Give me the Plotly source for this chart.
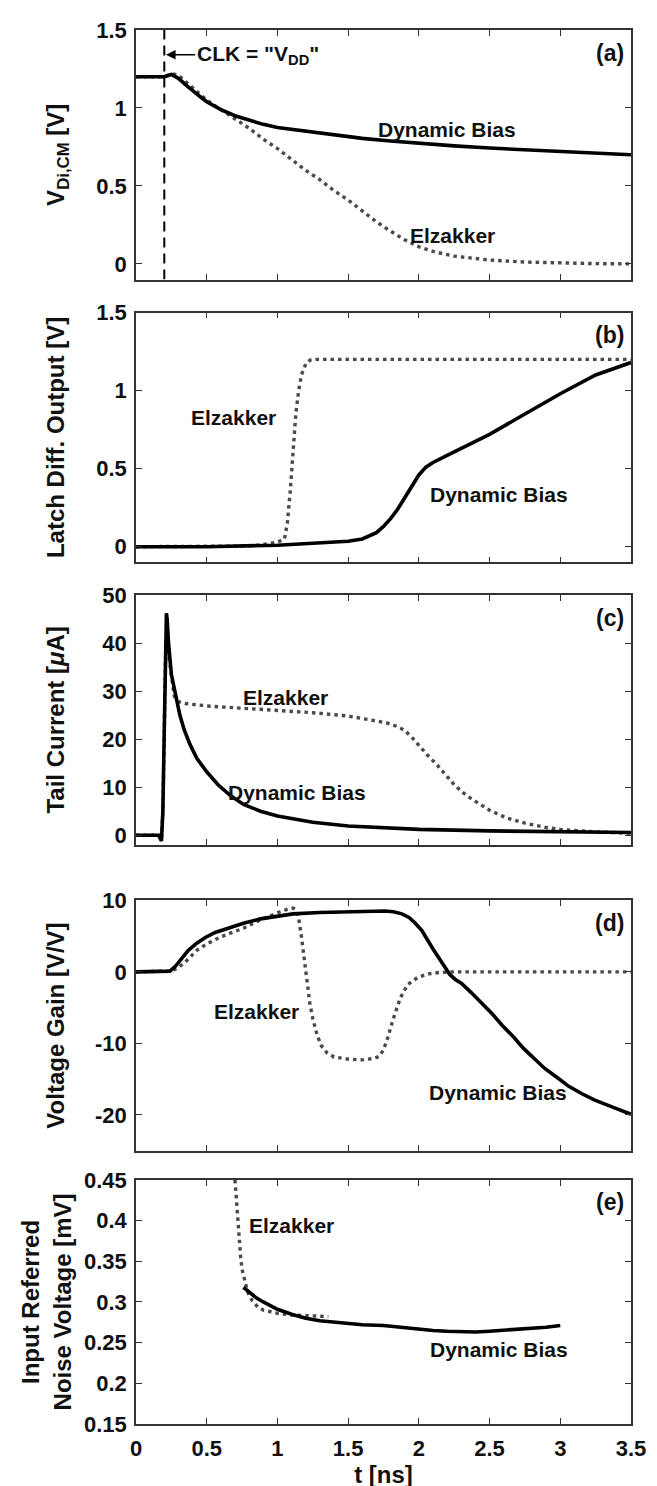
import plotly.graph_objects as go

# ---------------- data ----------------
clk_t = 0.2
clk_label_t = 0.86   # centre of the CLK label text (ns)
clk_label_v = 1.341  # level of the CLK arrow (V)

# (a) V_Di,CM [V]
a_db_t = [0, 0.1, 0.2, 0.25, 0.3, 0.35, 0.4, 0.45, 0.5, 0.6, 0.7, 0.8, 0.9, 1.0, 1.2, 1.4, 1.6, 1.8, 2.0, 2.25, 2.5, 2.75, 3.0, 3.25, 3.5]
a_db_v = [1.2, 1.2, 1.2, 1.215, 1.19, 1.15, 1.11, 1.075, 1.04, 0.99, 0.95, 0.92, 0.895, 0.875, 0.85, 0.825, 0.805, 0.788, 0.772, 0.757, 0.743, 0.732, 0.718, 0.708, 0.70]
a_el_t = [0, 0.1, 0.2, 0.25, 0.3, 0.35, 0.4, 0.5, 0.6, 0.7, 0.8, 0.9, 1.0, 1.1, 1.2, 1.3, 1.4, 1.5, 1.6, 1.7, 1.8, 1.9, 2.0, 2.1, 2.25, 2.5, 2.75, 3.0, 3.25, 3.5]
a_el_v = [1.2, 1.2, 1.2, 1.22, 1.21, 1.17, 1.13, 1.05, 0.99, 0.93, 0.87, 0.80, 0.74, 0.67, 0.60, 0.54, 0.47, 0.41, 0.34, 0.27, 0.21, 0.155, 0.11, 0.08, 0.05, 0.025, 0.012, 0.005, 0.002, 0.0]

# (b) Latch Diff. Output [V]
b_el_t = [0, 0.5, 0.8, 0.9, 0.95, 1.0, 1.05, 1.07, 1.09, 1.11, 1.13, 1.15, 1.17, 1.2, 1.23, 1.27, 1.5, 2.0, 2.5, 3.0, 3.5]
b_el_v = [0, 0, 0.005, 0.015, 0.025, 0.03, 0.05, 0.15, 0.35, 0.62, 0.85, 1.0, 1.1, 1.17, 1.195, 1.2, 1.2, 1.2, 1.2, 1.2, 1.2]
b_db_t = [0, 0.5, 1.0, 1.25, 1.5, 1.6, 1.7, 1.75, 1.8, 1.85, 1.9, 1.95, 2.0, 2.05, 2.1, 2.2, 2.3, 2.5, 2.75, 3.0, 3.25, 3.5]
b_db_v = [0, 0.0, 0.01, 0.02, 0.035, 0.05, 0.09, 0.13, 0.18, 0.24, 0.31, 0.39, 0.46, 0.51, 0.54, 0.585, 0.63, 0.72, 0.85, 0.98, 1.10, 1.18]

# (c) Tail Current [uA]
c_db_t = [0, 0.16, 0.18, 0.19, 0.2, 0.21, 0.215, 0.22, 0.23, 0.25, 0.28, 0.31, 0.34, 0.38, 0.43, 0.5, 0.58, 0.67, 0.76, 0.88, 1.0, 1.25, 1.5, 1.75, 2.0, 2.5, 3.0, 3.5]
c_db_i = [0, 0, -1.2, 5, 22, 42, 46.2, 45, 40, 33.5, 29, 25, 22, 19, 16, 13.2, 10.5, 8.2, 6.4, 5.0, 4.0, 2.7, 1.9, 1.5, 1.2, 0.9, 0.7, 0.55]
c_el_t = [0, 0.16, 0.18, 0.19, 0.2, 0.21, 0.22, 0.24, 0.27, 0.3, 0.35, 0.5, 0.75, 1.0, 1.25, 1.5, 1.65, 1.77, 1.85, 1.9, 1.95, 2.0, 2.06, 2.13, 2.2, 2.25, 2.31, 2.37, 2.5, 2.62, 2.75, 2.9, 3.0, 3.25, 3.5]
c_el_i = [0, 0, -1.0, 5, 22, 39, 40, 35, 29, 27.8, 27.4, 26.9, 26.4, 26.0, 25.5, 24.8, 24.1, 23.4, 22.6, 21.8, 20.4, 18.7, 16.7, 14.6, 12.3, 10.5, 8.9, 7.6, 5.2, 3.6, 2.5, 1.6, 1.2, 0.7, 0.4]

# (d) Voltage Gain [V/V]
d_db_t = [0, 0.2, 0.24, 0.28, 0.32, 0.37, 0.43, 0.49, 0.56, 0.64, 0.76, 0.88, 1.0, 1.11, 1.3, 1.5, 1.65, 1.76, 1.82, 1.88, 1.93, 1.97, 2.02, 2.06, 2.1, 2.15, 2.19, 2.22, 2.26, 2.3, 2.37, 2.44, 2.52, 2.59, 2.67, 2.74, 2.82, 2.89, 2.98, 3.06, 3.15, 3.24, 3.37, 3.5]
d_db_g = [0, 0, 0.1, 0.8, 1.8, 3.0, 4.0, 4.8, 5.5, 6.0, 6.8, 7.4, 7.8, 8.1, 8.3, 8.4, 8.5, 8.5, 8.4, 8.1, 7.6, 6.9, 5.8, 4.4, 3.2, 1.7, 0.6, -0.4, -1.1, -1.6, -2.9, -4.3, -5.9, -7.5, -9.1, -10.7, -12.2, -13.5, -14.8, -16.0, -17.0, -17.9, -18.9, -19.9]
d_el_t = [0, 0.2, 0.25, 0.3, 0.35, 0.43, 0.5, 0.6, 0.76, 0.85, 0.94, 1.02, 1.08, 1.11, 1.13, 1.15, 1.17, 1.19, 1.21, 1.23, 1.25, 1.28, 1.31, 1.35, 1.4, 1.5, 1.6, 1.68, 1.72, 1.75, 1.78, 1.82, 1.87, 1.92, 1.99, 2.06, 2.14, 2.26, 2.5, 3.0, 3.5]
d_el_g = [0, 0, 0.1, 0.6, 1.4, 3.0, 3.9, 4.9, 6.1, 7.0, 7.8, 8.4, 8.8, 8.9, 8.7, 7.5, 4.9, 1.5, -1.8, -4.5, -6.5, -8.8, -10.3, -11.3, -11.9, -12.2, -12.3, -12.1, -11.8, -10.9, -9.2, -6.5, -3.6, -1.8, -0.8, -0.3, -0.1, 0, 0, 0, 0]

# (e) Input Referred Noise Voltage [mV]
e_el_t = [0.70, 0.71, 0.72, 0.73, 0.74, 0.75, 0.77, 0.79, 0.82, 0.86, 0.9, 1.0, 1.1, 1.2, 1.3, 1.36]
e_el_n = [0.45, 0.425, 0.40, 0.375, 0.355, 0.34, 0.325, 0.312, 0.302, 0.294, 0.29, 0.286, 0.284, 0.283, 0.282, 0.282]
e_db_t = [0.76, 0.8, 0.85, 0.9, 1.0, 1.1, 1.2, 1.3, 1.4, 1.5, 1.6, 1.75, 1.9, 2.0, 2.1, 2.2, 2.3, 2.4, 2.5, 2.6, 2.7, 2.8, 2.9, 3.0]
e_db_n = [0.318, 0.312, 0.305, 0.30, 0.291, 0.285, 0.28, 0.277, 0.275, 0.273, 0.272, 0.271, 0.268, 0.266, 0.265, 0.264, 0.263, 0.263, 0.264, 0.265, 0.266, 0.267, 0.269, 0.271]

panel_tags = ["(a)", "(b)", "(c)", "(d)", "(e)"]
y_titles = ["V<sub>Di,CM</sub> [V]", "Latch Diff. Output [V]", "Tail Current [<i>μ</i>A]",
            "Voltage Gain [V/V]", "Input Referred<br>Noise Voltage [mV]"]
y_ranges = [[-0.1, 1.5], [-0.1, 1.5], [-2, 50], [-25, 10], [0.15, 0.45]]
y_ticks = [[0, 0.5, 1, 1.5], [0, 0.5, 1, 1.5], [0, 10, 20, 30, 40, 50],
           [-20, -10, 0, 10], [0.15, 0.2, 0.25, 0.3, 0.35, 0.4, 0.45]]
y_ticktext = [["0", "0.5", "1", "1.5"], ["0", "0.5", "1", "1.5"], ["0", "10", "20", "30", "40", "50"],
              ["-20", "-10", "0", "10"], ["0.15", "0.2", "0.25", "0.3", "0.35", "0.4", "0.45"]]
x_ticks = [0, 0.5, 1, 1.5, 2, 2.5, 3, 3.5]
x_ticktext = ["0", "0.5", "1", "1.5", "2", "2.5", "3", "3.5"]

# curve labels: (panel index, t, value, text)
curve_labels = [
    (0, 2.20, 0.86, "Dynamic Bias"),
    (0, 2.24, 0.18, "Elzakker"),
    (1, 0.69, 0.83, "Elzakker"),
    (1, 2.57, 0.335, "Dynamic Bias"),
    (2, 1.06, 28.6, "Elzakker"),
    (2, 1.14, 8.9, "Dynamic Bias"),
    (3, 0.85, -5.5, "Elzakker"),
    (3, 2.56, -16.9, "Dynamic Bias"),
    (4, 1.10, 0.394, "Elzakker"),
    (4, 2.57, 0.241, "Dynamic Bias"),
]

# ---------------- styling ----------------
FONT = "Liberation Sans, Arial, sans-serif"
SOLID = dict(color="#000000", width=3.6)
DOT = dict(color="#4a4a4a", width=3.4, dash="3.5px,4px")
domains = [[0.8210, 1.0], [0.6181, 0.7973], [0.4155, 0.5947], [0.1960, 0.3757], [0.0, 0.1751]]
standoffs = [25, 25, 31, 24, 6]


def ax_names(k):
    return ("x" if k == 0 else f"x{k+1}"), ("y" if k == 0 else f"y{k+1}")


fig = go.Figure()

series = [
    (a_el_t, a_el_v, a_db_t, a_db_v),
    (b_el_t, b_el_v, b_db_t, b_db_v),
    (c_el_t, c_el_i, c_db_t, c_db_i),
    (d_el_t, d_el_g, d_db_t, d_db_g),
    (e_el_t, e_el_n, e_db_t, e_db_n),
]
for k, (et, ev, dt, dv) in enumerate(series):
    xa, ya = ax_names(k)
    fig.add_trace(go.Scatter(x=et, y=ev, mode="lines", line=DOT, name="Elzakker",
                             xaxis=xa, yaxis=ya, showlegend=False))
    fig.add_trace(go.Scatter(x=dt, y=dv, mode="lines", line=SOLID, name="Dynamic Bias",
                             xaxis=xa, yaxis=ya, showlegend=False))

# CLK marker line in (a)
fig.add_trace(go.Scatter(x=[clk_t, clk_t], y=[y_ranges[0][0], y_ranges[0][1]], mode="lines",
                         line=dict(color="#000000", width=2, dash="10px,6px"),
                         xaxis="x", yaxis="y", showlegend=False))

axis_common = dict(showline=True, linecolor="#333333", linewidth=1.5, mirror="ticks",
                   ticks="inside", ticklen=6, tickwidth=1.3, tickcolor="#333333",
                   showgrid=False, zeroline=False,
                   tickfont=dict(family=FONT, size=22, color="#111111", weight="bold"))

layout = dict(width=657, height=1486, plot_bgcolor="white", paper_bgcolor="white",
              margin=dict(l=128, r=34, t=10, b=68), showlegend=False)

for k in range(5):
    xa, ya = ax_names(k)
    xkey = "xaxis" if k == 0 else f"xaxis{k+1}"
    ykey = "yaxis" if k == 0 else f"yaxis{k+1}"
    xd = dict(axis_common, range=[0, 3.5], tickvals=x_ticks, ticktext=x_ticktext,
              anchor=ya, domain=[0, 1], showticklabels=(k == 4), ticklabelstandoff=4)
    if k > 0:
        xd["matches"] = "x"
    if k == 4:
        xd["title"] = dict(text="t [ns]", font=dict(family=FONT, size=24, color="#111111", weight="bold"),
                           standoff=6)
    yd = dict(axis_common, range=y_ranges[k], tickvals=y_ticks[k], ticktext=y_ticktext[k],
              anchor=xa, domain=domains[k], ticklabelstandoff=3,
              title=dict(text=y_titles[k], standoff=standoffs[k],
                         font=dict(family=FONT, size=24, color="#111111", weight="bold")))
    layout[xkey] = xd
    layout[ykey] = yd

fig.update_layout(**layout)

ann_font = dict(family=FONT, size=21, color="#111111", weight="bold")
for k, x, y, txt in curve_labels:
    xa, ya = ax_names(k)
    fig.add_annotation(xref=xa, yref=ya, x=x, y=y, text=txt, showarrow=False,
                       font=ann_font, xanchor="center", yanchor="middle")

for k, tag in enumerate(panel_tags):
    xa, ya = ax_names(k)
    fig.add_annotation(xref=f"{xa} domain", yref=f"{ya} domain", x=0.99, y=0.909, text=tag,
                       showarrow=False, xanchor="right", yanchor="middle",
                       font=dict(family=FONT, size=23, color="#111111", weight="bold"))

# CLK label with arrow pointing to the CLK line in (a)
fig.add_annotation(xref="x", yref="y", x=clk_t + 0.012, y=clk_label_v,
                   axref="x", ayref="y", ax=clk_label_t, ay=clk_label_v,
                   text='CLK = "V<sub>DD</sub>"', showarrow=True, arrowhead=2, arrowsize=1.2,
                   arrowwidth=1.6, arrowcolor="#000000", standoff=0, borderpad=1,
                   font=ann_font)

fig.write_html("out.html")
